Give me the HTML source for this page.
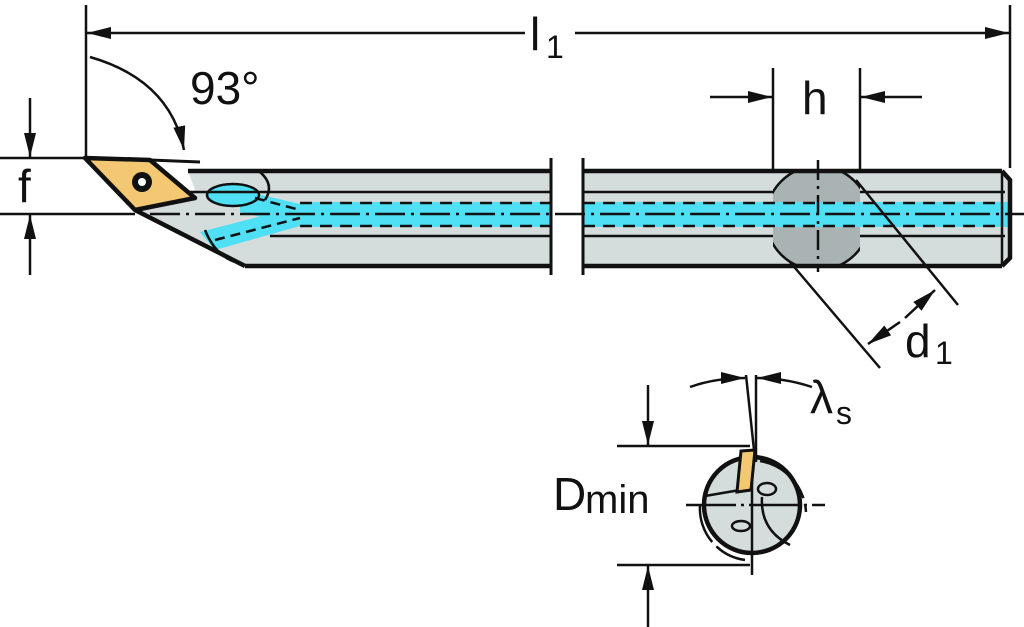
<!DOCTYPE html>
<html><head><meta charset="utf-8"><style>
html,body{margin:0;padding:0;background:#fff;}
svg{display:block;}
text{font-family:"Liberation Sans",sans-serif;fill:#111;}
</style></head><body>
<svg width="1024" height="627" viewBox="0 0 1024 627" xmlns="http://www.w3.org/2000/svg">
<defs>
<marker id="A" viewBox="0 0 24 12" markerWidth="24" markerHeight="12" refX="24" refY="6" orient="auto" markerUnits="userSpaceOnUse"><path d="M0,0 L24,6 L0,12 Z" fill="#111"/></marker>
<clipPath id="bar2"><rect x="773" y="171" width="87" height="95"/></clipPath>
<clipPath id="ev"><circle cx="752" cy="505" r="48"/></clipPath>
</defs>
<g stroke="#111" fill="none" stroke-width="2.5">
<line x1="86" y1="5" x2="86" y2="160"/>
<line x1="1010" y1="5" x2="1010" y2="168"/>
<line x1="525" y1="33" x2="87" y2="33" marker-end="url(#A)"/>
<line x1="575" y1="33" x2="1009" y2="33" marker-end="url(#A)"/>
<path d="M90,57 Q170,80 184,150" marker-end="url(#A)"/>
<line x1="0" y1="158" x2="90" y2="158"/>
<line x1="0" y1="214" x2="135" y2="214"/>
<line x1="30" y1="98" x2="30" y2="157" marker-end="url(#A)"/>
<line x1="30" y1="275" x2="30" y2="215" marker-end="url(#A)"/>
<line x1="773" y1="68" x2="773" y2="172"/>
<line x1="860" y1="68" x2="860" y2="172"/>
<line x1="710" y1="97" x2="772" y2="97" marker-end="url(#A)"/>
<line x1="922" y1="97" x2="861" y2="97" marker-end="url(#A)"/>
</g>
<path d="M188,171 L551,171 L551,266 L245,266 L135,210 L195,190 Z" fill="#d5dcdc"/>
<path d="M583,171 L1002,171 L1010,180 L1010,258 L1002,266 L583,266 Z" fill="#d5dcdc"/>
<g clip-path="url(#bar2)"><circle cx="818" cy="218" r="52" fill="#a9b3b3" stroke="#111" stroke-width="2.5"/></g>
<rect x="300" y="202" width="251" height="25" fill="#4fe0f5"/>
<rect x="583" y="202" width="425" height="25" fill="#4fe0f5"/>
<path d="M240,190 L300,204 L300,226 L240,212 Z" fill="#4fe0f5"/>
<path d="M200,232 L300,206 L300,226 L215,250 Z" fill="#4fe0f5"/>
<ellipse cx="233" cy="195" rx="26" ry="11" fill="#4fe0f5" stroke="#111" stroke-width="2.5"/>
<g stroke="#111" stroke-width="2.5" fill="none">
<line x1="300" y1="203" x2="551" y2="203" stroke-dasharray="12,8"/>
<line x1="300" y1="226" x2="551" y2="226" stroke-dasharray="12,8"/>
<line x1="583" y1="203" x2="1000" y2="203" stroke-dasharray="12,8"/>
<line x1="583" y1="226" x2="1000" y2="226" stroke-dasharray="12,8"/>
<line x1="150" y1="214" x2="1024" y2="214" stroke-dasharray="30,6,3,6"/>
<line x1="255" y1="198" x2="300" y2="210" stroke-dasharray="10,6"/>
<line x1="215" y1="240" x2="300" y2="218" stroke-dasharray="10,6"/>
<line x1="188" y1="192" x2="551" y2="192"/>
<line x1="270" y1="236" x2="551" y2="236"/>
<line x1="583" y1="192" x2="773" y2="192"/>
<line x1="860" y1="192" x2="1005" y2="192"/>
<line x1="583" y1="236" x2="773" y2="236"/>
<line x1="860" y1="236" x2="1005" y2="236"/>
<line x1="1002" y1="171" x2="1002" y2="266"/>
<path d="M260,172 Q275,185 265,200"/>
<path d="M205,230 Q215,255 235,262"/>
<line x1="818" y1="160" x2="818" y2="272" stroke-dasharray="20,6,3,6"/>
</g>
<g stroke="#111" stroke-width="4.5" fill="none">
<line x1="188" y1="171" x2="551" y2="171"/>
<line x1="245" y1="266" x2="551" y2="266"/>
<line x1="551" y1="158" x2="551" y2="275" stroke-width="3"/>
<line x1="583" y1="158" x2="583" y2="275" stroke-width="3"/>
<line x1="583" y1="171" x2="1002" y2="171"/>
<line x1="583" y1="266" x2="1002" y2="266"/>
<path d="M1002,171 L1010,180 L1010,258 L1002,266"/>
<path d="M135,210 L245,266"/>
</g>
<path d="M85,158 L150,160 L195,198 L135,210 Z" fill="#f4c873" stroke="#111" stroke-width="4.5" stroke-linejoin="round"/>
<line x1="150" y1="160" x2="200" y2="162" stroke="#111" stroke-width="3"/>
<circle cx="142" cy="182" r="10" fill="#111"/><circle cx="142" cy="182" r="4" fill="#fff"/>
<g stroke="#111" stroke-width="2.5" fill="none">
<line x1="790" y1="262" x2="880" y2="368"/>
<line x1="856" y1="180" x2="958" y2="305"/>
<line x1="905" y1="318" x2="935" y2="290" marker-end="url(#A)"/>
<line x1="900" y1="322" x2="868" y2="344" marker-end="url(#A)"/>
</g>
<g clip-path="url(#ev)"><rect x="700" y="450" width="110" height="110" fill="#d5dcdc"/></g>
<g stroke="#111" stroke-width="2.5" fill="none">
<circle cx="752" cy="505" r="48" stroke-width="4.5"/>
<path d="M760,461 A55,55 0 0 1 806,512" stroke-dasharray="60,6"/>
<path d="M700,505 A52,52 0 0 0 745,560" stroke-dasharray="40,6"/>
<line x1="686" y1="505" x2="825" y2="505" stroke-dasharray="50,5,3,5"/>
<line x1="752" y1="455" x2="752" y2="575"/>
<path d="M762,497 Q760,530 790,545"/>
<ellipse cx="767" cy="489" rx="9" ry="6"/>
<ellipse cx="741" cy="526" rx="9" ry="5"/>
<line x1="705" y1="496" x2="740" y2="490"/>
<line x1="617" y1="446" x2="750" y2="446"/>
<line x1="617" y1="565" x2="750" y2="565"/>
<line x1="648" y1="385" x2="648" y2="445" marker-end="url(#A)"/>
<line x1="648" y1="627" x2="648" y2="566" marker-end="url(#A)"/>
<line x1="746" y1="375" x2="754" y2="450"/>
<line x1="756" y1="375" x2="756" y2="462"/>
<path d="M690,387 Q715,378 745,378" marker-end="url(#A)"/>
<path d="M812,387 Q785,378 757,378" marker-end="url(#A)"/>
</g>
<path d="M741,451 L755,450 L751,490 L737,492 Z" fill="#f4c873" stroke="#111" stroke-width="3"/>
<text x="530" y="50" font-size="46">l</text><text x="546" y="58" font-size="32">1</text>
<text x="190" y="104" font-size="46">93°</text>
<text x="18" y="202" font-size="46">f</text>
<text x="802" y="114" font-size="46">h</text>
<text x="905" y="357" font-size="46">d</text><text x="935" y="364" font-size="32">1</text>
<text x="810" y="413" font-size="46">λ</text><text x="836" y="424" font-size="32">s</text>
<text x="553" y="510" font-size="46">D</text><text x="585" y="513" font-size="40">min</text>
</svg>
</body></html>
